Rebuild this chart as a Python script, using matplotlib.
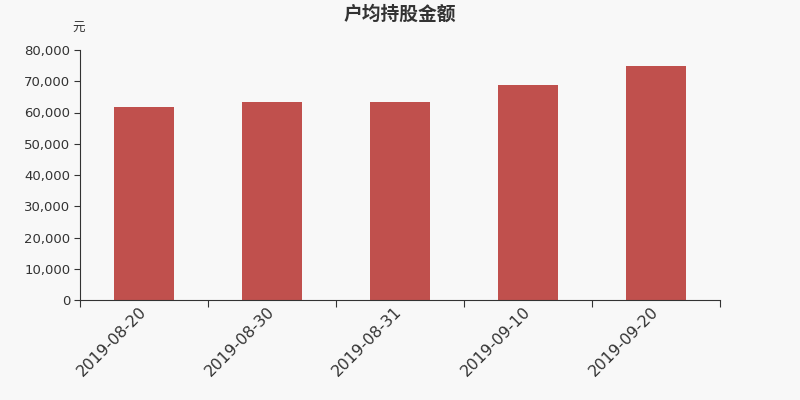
import matplotlib
matplotlib.use('Agg')
import matplotlib.pyplot as plt
import matplotlib.transforms as mtransforms
from matplotlib.ticker import FuncFormatter

plt.rcParams['font.family'] = ['Noto Sans CJK SC', 'DejaVu Sans']

# data
dates = ['2019-08-20', '2019-08-30', '2019-08-31', '2019-09-10', '2019-09-20']
values = [61700, 63300, 63300, 68700, 74800]

bg = '#f8f8f8'
fig = plt.figure(figsize=(8, 4), dpi=100, facecolor=bg)
ax = fig.add_axes([0.1, 0.25, 0.8, 0.625], facecolor=bg)

x = list(range(len(dates)))
ax.bar(x, values, width=0.47, color='#c0504d', zorder=2)

ax.set_xlim(-0.5, len(dates) - 0.5)
ax.set_ylim(0, 80000)
ax.set_yticks(range(0, 80001, 10000))
ax.yaxis.set_major_formatter(FuncFormatter(lambda v, p: '{:,.0f}'.format(v)))

ax.set_xticks([i - 0.5 for i in range(len(dates) + 1)])
ax.set_xticklabels([])
ax.set_xticks(x, minor=True)
ax.set_xticklabels(dates, minor=True, rotation=45, ha='right',
                   rotation_mode='anchor', fontsize=11.3, color='#333333',
                   family='DejaVu Sans')
ax.tick_params(axis='x', which='minor', length=0, pad=3)
ax.tick_params(axis='x', which='major', length=5, color='#333333')
ax.tick_params(axis='y', length=4, color='#333333', labelsize=9.5,
               labelcolor='#333333', pad=3)
for lab in ax.get_yticklabels():
    lab.set_family('DejaVu Sans')
# nudge the date labels a little left
shift = mtransforms.ScaledTranslation(-4 / 72, 0, fig.dpi_scale_trans)
for lab in ax.get_xticklabels(minor=True):
    lab.set_transform(lab.get_transform() + shift)

for s in ['top', 'right']:
    ax.spines[s].set_visible(False)
for s in ['left', 'bottom']:
    ax.spines[s].set_color('#333333')

fig.text(0.5, 0.965, '户均持股金额', ha='center', va='center',
         fontsize=13.5, fontweight='bold', color='#333333')
fig.text(0.098, 0.93, '元', ha='center', va='center', fontsize=9,
         color='#333333')

fig.savefig('out.png', dpi=100, facecolor=bg)
